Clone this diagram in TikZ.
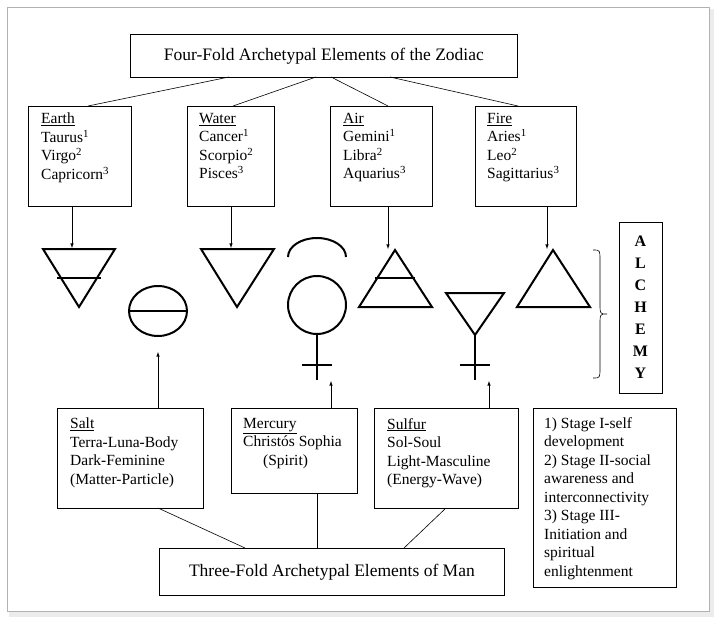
\documentclass[tikz,border=0pt]{standalone}
\usepackage{fontspec}
\setmainfont{Liberation Serif}
\begin{document}
\begin{tikzpicture}[x=1pt,y=-1pt,
 box/.style={draw,line width=0.8pt},
 txt/.style={anchor=north west,align=left,inner sep=0pt,font=\fontsize{15.5}{18.5}\selectfont},
 sym/.style={line width=2pt},
 arr/.style={-latex,line width=0.6pt},
 ln/.style={line width=0.6pt}]
\useasboundingbox (0,0) rectangle (716,621);
\fill[gray!30] (10,10) rectangle (713,615);
\fill[gray!15] (9,9) rectangle (714,617);
\fill[white,draw=gray!60] (7,7) rectangle (709,611);
% top
\node[box,minimum width=387pt,minimum height=43pt,anchor=north west,font=\fontsize{17.5}{20}\selectfont,inner sep=0pt] (top) at (130,34) {Four-Fold Archetypal Elements of the Zodiac};
\draw[box] (28,106) rectangle (131,206); \coordinate (earth) at (88,106);
\draw[box] (187,106) rectangle (274,206); \coordinate (water) at (233,106);
\draw[box] (330,106) rectangle (432,206); \coordinate (air) at (388,106);
\draw[box] (475,106) rectangle (576,206); \coordinate (fire) at (518,106);
\node[txt] (te) at (41,113) {\underline{Earth}\\Taurus\textsuperscript{1}\\Virgo\textsuperscript{2}\\Capricorn\textsuperscript{3}};
\node[txt] (tw) at (199,113) {\underline{Water}\\Cancer\textsuperscript{1}\\Scorpio\textsuperscript{2}\\Pisces\textsuperscript{3}};
\node[txt] (ta) at (343,113) {\underline{Air}\\Gemini\textsuperscript{1}\\Libra\textsuperscript{2}\\Aquarius\textsuperscript{3}};
\node[txt] (tf) at (487,113) {\underline{Fire}\\Aries\textsuperscript{1}\\Leo\textsuperscript{2}\\Sagittarius\textsuperscript{3}};
\draw[ln] (229,77) -- (earth); \draw[ln] (316,77) -- (water);
\draw[ln] (331,77) -- (air); \draw[ln] (390,77) -- (fire);
% arrows down
\coordinate (e1) at (72,206); \coordinate (e2) at (72,248);
\coordinate (w1) at (231,206); \coordinate (w2) at (231,248);
\coordinate (a1) at (388,206); \coordinate (a2) at (388,249);
\coordinate (f1) at (547,206); \coordinate (f2) at (547,249);
\draw[arr] (e1)--(e2); \draw[arr] (w1)--(w2); \draw[arr] (a1)--(a2); \draw[arr] (f1)--(f2);
% symbols
\draw[sym,line join=miter] (43,249) -- (115,249) -- (79,307) -- cycle;
\draw[sym] (57,278) -- (101,278);
\draw[sym] (158,311) ellipse (29 and 25); \draw[sym] (129,311) -- (187,311);
\draw[sym] (201,249) -- (274,249) -- (237,307) -- cycle;
\draw[sym] (288,257) arc (180:360:29 and 19);
\draw[sym] (317,305) ellipse (29 and 29);
\draw[sym] (317,334) -- (317,380); \draw[sym] (302,365) -- (332,365);
\draw[sym] (395,250) -- (432,307) -- (359,307) -- cycle; \draw[sym] (375,278) -- (415,278);
\draw[sym] (446,293) -- (504,293) -- (475,335) -- cycle;
\draw[sym] (475,335) -- (475,380); \draw[sym] (460,365) -- (490,365);
\draw[sym] (553,250) -- (590,307) -- (517,307) -- cycle;
\draw[ln] (593,250) .. controls (600,250) .. (600,260) -- (600,304) .. controls (600,314) .. (607,314) .. controls (600,314) .. (600,324) -- (600,368) .. controls (600,378) .. (593,378);
\draw[box] (619,222) rectangle (662,393);
\node[font=\fontsize{16}{22}\selectfont\bfseries,align=center] (alc) at (640.5,307.5) {A\\L\\C\\H\\E\\M\\Y};
% bottom boxes
\draw[box] (57,408) rectangle (203,508);
\draw[box] (231,408) rectangle (357,493);
\draw[box] (374,408) rectangle (518,508);
\draw[box] (533,408) rectangle (676,587);
\node[txt] (ts) at (70,418) {\underline{Salt}\\Terra-Luna-Body\\Dark-Feminine\\(Matter-Particle)};
\node[txt] (tm) at (243,418) {\underline{Mercury}\\Christós Sophia\\\hspace*{20pt}(Spirit)};
\node[txt] (tu) at (387,418) {\underline{Sulfur}\\Sol-Soul\\Light-Masculine\\(Energy-Wave)};
\node[txt,font=\fontsize{15.5}{18.5}\selectfont] (tst) at (544,417) {1) Stage I-self\\development\\2) Stage II-social\\awareness and\\interconnectivity\\3) Stage III-\\Initiation and\\spiritual\\enlightenment};
\node[box,minimum width=345pt,minimum height=47pt,anchor=north west,font=\fontsize{17.5}{20}\selectfont,inner sep=0pt] (bot) at (159,548) {Three-Fold Archetypal Elements of Man};
\draw[arr] (158,408) -- (158,352);
\draw[arr] (331,408) -- (331,381);
\draw[arr] (489,408) -- (489,381);
\draw[ln] (158,508) -- (245,548);
\draw[ln] (317,493) -- (317,548);
\draw[ln] (446,508) -- (404,548);
\end{tikzpicture}
\end{document}
